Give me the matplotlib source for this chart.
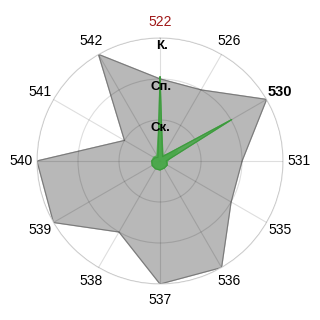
import numpy as np
import matplotlib
matplotlib.use("Agg")
import matplotlib.pyplot as plt

plt.rcParams["font.family"] = ["Liberation Sans", "DejaVu Sans"]

# categories clockwise from the top
labels = ["522", "526", "530", "531", "535", "536", "537", "538", "539", "540", "541", "542"]
gray_vals = [2.0, 2.0, 3.0, 2.0, 2.0, 3.0, 3.0, 2.0, 3.0, 3.0, 1.0, 3.0]
green_vals = [2.05, 0.12, 2.02, 0.15, 0.2, 0.2, 0.22, 0.22, 0.22, 0.2, 0.15, 0.1]
green_mid = [1.3, 0.15, 0.5, 0.18, 0.2, 0.2, 0.2, 0.2, 0.2, 0.2, 0.18, 0.15]
level_names = ["Ск.", "Сп.", "К."]
level_pos = [0.8, 1.8, 2.8]

n = len(labels)
theta = np.arange(n) * 2 * np.pi / n
theta_c = np.append(theta, theta[0])

def closed(v):
    return np.append(v, v[0])

fig = plt.figure(figsize=(3.2, 3.2), dpi=100)
ax = fig.add_axes([0.1156, 0.1125, 0.769, 0.769], projection="polar")
ax.set_theta_zero_location("N")
ax.set_theta_direction(-1)
ax.set_ylim(0, 3)

##### polygons ##########
ax.fill(theta_c, closed(gray_vals), color="#b8b8b8", zorder=1)
ax.plot(theta_c, closed(gray_vals), color="#7a7a7a", lw=0.8, zorder=2)
ax.fill(theta_c, closed(green_mid), color="#4aa84a", alpha=0.8, zorder=3)
ax.fill(theta_c, closed(green_vals), color="#4aa84a", alpha=0.85, zorder=3)
ax.plot(theta_c, closed(green_vals), color="#3d9a3d", lw=0.8, zorder=4)

##### grid #########
ax.set_xticks(theta)
ax.set_xticklabels([])
ax.set_yticks([1, 2, 3])
ax.set_yticklabels([])
ax.grid(True, color="black", alpha=0.13, lw=0.8, zorder=5)
ax.set_axisbelow(False)
ax.spines["polar"].set_color("#dddddd")
ax.spines["polar"].set_linewidth(0.8)

##### category labels ##########
for t, lab in zip(theta, labels):
    color = "#a01818" if lab == "522" else "black"
    weight = "bold" if lab == "530" else "normal"
    size = 10.5 if lab == "530" else 10
    ax.text(t, 3.38, lab, ha="center", va="center", color=color,
            fontsize=size, fontweight=weight)

for pos, name in zip(level_pos, level_names):
    ax.text(0.02, pos, name, ha="center", va="center", fontsize=9.5,
            fontweight="bold", color="black", zorder=6)

fig.savefig("out.png", dpi=100)
